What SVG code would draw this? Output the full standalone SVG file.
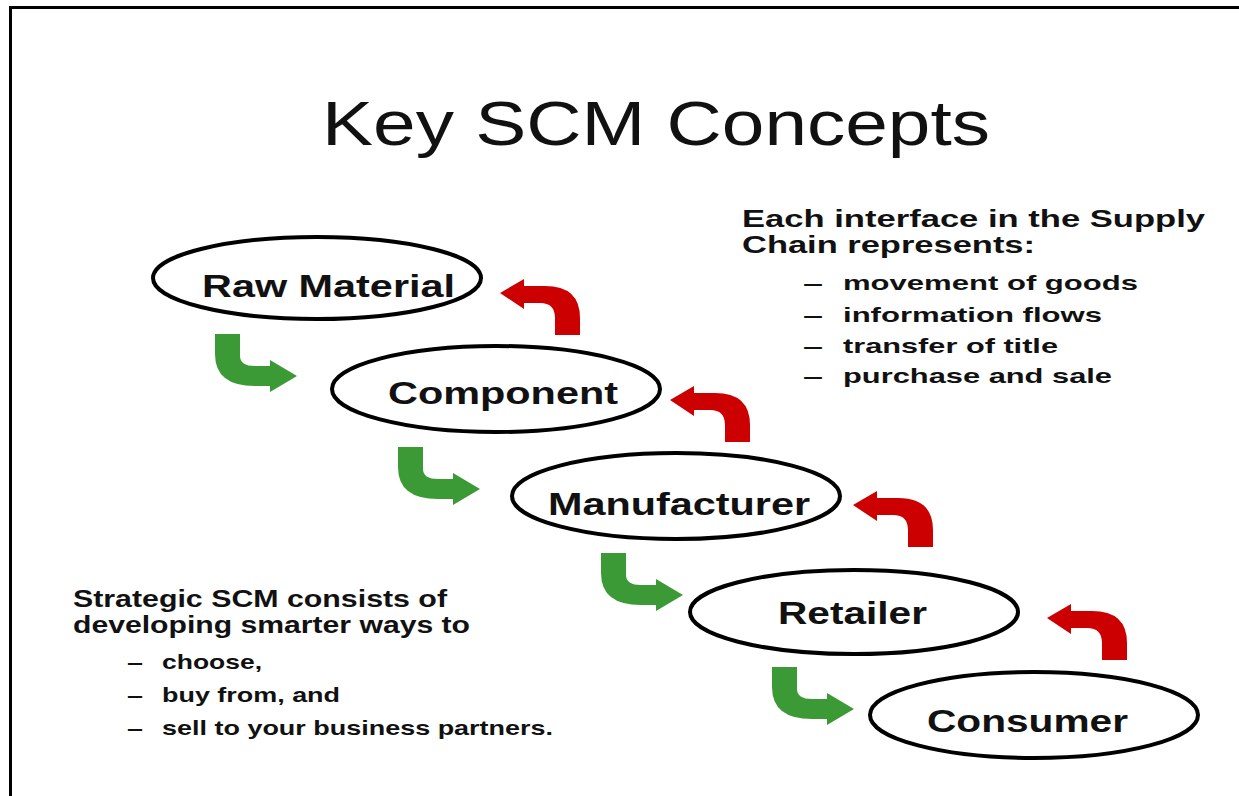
<svg xmlns="http://www.w3.org/2000/svg" width="1239" height="796" viewBox="0 0 1239 796">
<style>
.t{font-family:"Liberation Sans",Arial,sans-serif;fill:#111;}
.b{font-weight:bold;}
.node ellipse{fill:#fff;stroke:#000;stroke-width:4;}
.node text{font-family:"Liberation Sans",Arial,sans-serif;font-weight:bold;font-size:32px;fill:#111;}
.g{fill:#3b9a35;}
.r{fill:#cc0000;}
</style>
<defs>
<path id="garrow" d="M0,0 L25,0 L25,22 Q25,32 40,32 L55,32 L55,26 L82,42 L55,58 L55,52 L40,52 Q0,52 0,20 Z"/>
<path id="rarrow" d="M0,0 L24,-14 L24,-7 L45,-7 Q80,-7 80,25 L80,42 L55,42 L55,25 Q55,10 40,10 L24,10 L24,16 Z"/>
</defs>
<rect width="1239" height="796" fill="#fff"/>
<path d="M9,7.5 H1239 M10.5,6 V796" stroke="#000" stroke-width="3" fill="none"/>
<text class="t" x="322" y="145" font-size="63" textLength="668" lengthAdjust="spacingAndGlyphs">Key SCM Concepts</text>

<g id="connectors">
<use href="#garrow" class="g" x="215" y="334"/>
<use href="#garrow" class="g" x="398" y="447"/>
<use href="#garrow" class="g" x="601" y="553"/>
<use href="#garrow" class="g" x="772" y="667"/>
<use href="#rarrow" class="r" x="500" y="293"/>
<use href="#rarrow" class="r" x="670" y="400"/>
<use href="#rarrow" class="r" x="853" y="505"/>
<use href="#rarrow" class="r" x="1047" y="618"/>
</g>

<g id="raw-material" class="node">
<ellipse cx="317" cy="278" rx="164" ry="41"/>
<text x="202" y="297" textLength="253" lengthAdjust="spacingAndGlyphs">Raw Material</text>
</g>
<g id="component" class="node">
<ellipse cx="496" cy="389" rx="164" ry="43"/>
<text x="388" y="404" textLength="230" lengthAdjust="spacingAndGlyphs">Component</text>
</g>
<g id="manufacturer" class="node">
<ellipse cx="676" cy="496" rx="164" ry="43"/>
<text x="548" y="515" textLength="262" lengthAdjust="spacingAndGlyphs">Manufacturer</text>
</g>
<g id="retailer" class="node">
<ellipse cx="854" cy="612" rx="164" ry="42"/>
<text x="778" y="624" textLength="149" lengthAdjust="spacingAndGlyphs">Retailer</text>
</g>
<g id="consumer" class="node">
<ellipse cx="1034" cy="715" rx="164" ry="43"/>
<text x="927" y="732" textLength="201" lengthAdjust="spacingAndGlyphs">Consumer</text>
</g>

<g id="interface-text" class="t b">
<text x="742" y="227" font-size="23" textLength="463" lengthAdjust="spacingAndGlyphs">Each interface in the Supply</text>
<text x="742" y="253" font-size="23" textLength="293" lengthAdjust="spacingAndGlyphs">Chain represents:</text>
<text x="803" y="290" font-size="21" textLength="20" lengthAdjust="spacingAndGlyphs">–</text>
<text x="843" y="290" font-size="21" textLength="295" lengthAdjust="spacingAndGlyphs">movement of goods</text>
<text x="803" y="322" font-size="21" textLength="20" lengthAdjust="spacingAndGlyphs">–</text>
<text x="843" y="322" font-size="21" textLength="259" lengthAdjust="spacingAndGlyphs">information flows</text>
<text x="803" y="353" font-size="21" textLength="20" lengthAdjust="spacingAndGlyphs">–</text>
<text x="843" y="353" font-size="21" textLength="215" lengthAdjust="spacingAndGlyphs">transfer of title</text>
<text x="803" y="383" font-size="21" textLength="20" lengthAdjust="spacingAndGlyphs">–</text>
<text x="843" y="383" font-size="21" textLength="269" lengthAdjust="spacingAndGlyphs">purchase and sale</text>
</g>

<g id="strategic-text" class="t b">
<text x="73" y="607" font-size="23" textLength="374" lengthAdjust="spacingAndGlyphs">Strategic SCM consists of</text>
<text x="73" y="633" font-size="23" textLength="397" lengthAdjust="spacingAndGlyphs">developing smarter ways to</text>
<text x="127" y="669" font-size="21" textLength="16" lengthAdjust="spacingAndGlyphs">–</text>
<text x="162" y="669" font-size="21" textLength="100" lengthAdjust="spacingAndGlyphs">choose,</text>
<text x="127" y="702" font-size="21" textLength="16" lengthAdjust="spacingAndGlyphs">–</text>
<text x="162" y="702" font-size="21" textLength="178" lengthAdjust="spacingAndGlyphs">buy from, and</text>
<text x="127" y="735" font-size="21" textLength="16" lengthAdjust="spacingAndGlyphs">–</text>
<text x="162" y="735" font-size="21" textLength="391" lengthAdjust="spacingAndGlyphs">sell to your business partners.</text>
</g>
</svg>
